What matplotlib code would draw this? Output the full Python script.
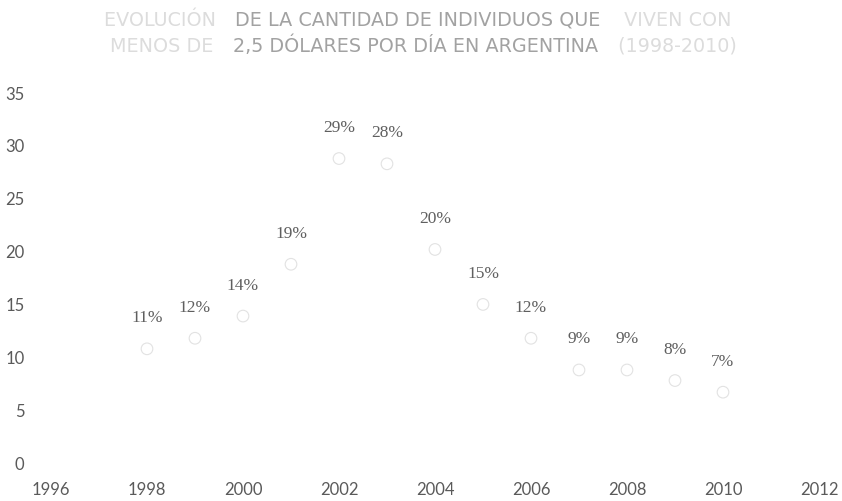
import matplotlib
matplotlib.use('Agg')
from matplotlib import pyplot as plt

# datos: porcentaje de individuos que viven con menos de 2,5 dolares por dia
years = [1998, 1999, 2000, 2001, 2002, 2003, 2004, 2005, 2006, 2007, 2008, 2009, 2010]
values = [10.8, 11.8, 13.9, 18.8, 28.8, 28.3, 20.2, 15.0, 11.8, 8.8, 8.8, 7.8, 6.7]
labels = ['11%', '12%', '14%', '19%', '29%', '28%', '20%', '15%', '12%', '9%', '9%', '8%', '7%']

x_ticks = list(range(1996, 2013, 2))
y_ticks = list(range(0, 36, 5))

fig = plt.figure(figsize=(8.42, 5.01), dpi=100)
ax = fig.add_axes([51 / 842, 38 / 501, 768 / 842, 370 / 501])

# puntos (marcadores casi invisibles)
ax.scatter(years, values, s=70, facecolors='none', edgecolors='#e2e2e2', linewidths=0.8)

# etiquetas de datos
for x, y, lab in zip(years, values, labels):
    ax.annotate(lab, (x, y), xytext=(0, 22), textcoords='offset points',
                ha='center', va='center', fontsize=12.5, color='#5f5f5f',
                family='Liberation Serif')

ax.set_xlim(1996, 2012)
ax.set_ylim(0, 35)
ax.set_xticks(x_ticks)
ax.set_yticks(y_ticks)
for s in ax.spines.values():
    s.set_visible(False)
ax.tick_params(axis='both', length=0, labelsize=12, labelcolor='#5a5a5a')
ax.tick_params(axis='x', pad=14)
ax.tick_params(axis='y', pad=19)
for t in ax.get_xticklabels() + ax.get_yticklabels():
    t.set_family('Lato')

# titulo (parte central legible, extremos desvanecidos)
title_font = dict(fontsize=13.8, family='DejaVu Sans', va='center')
fig.text(222 / 842, 1 - 20 / 501, 'EVOLUCIÓN ', ha='right', color='#dcdcdc', **title_font)
fig.text(418 / 842, 1 - 20 / 501, 'DE LA CANTIDAD DE INDIVIDUOS QUE', ha='center', color='#a2a2a2', **title_font)
fig.text(618 / 842, 1 - 20 / 501, ' VIVEN CON', ha='left', color='#dcdcdc', **title_font)
fig.text(220 / 842, 1 - 46 / 501, 'MENOS DE ', ha='right', color='#dcdcdc', **title_font)
fig.text(416 / 842, 1 - 46 / 501, '2,5 DÓLARES POR DÍA EN ARGENTINA', ha='center', color='#a2a2a2', **title_font)
fig.text(612 / 842, 1 - 46 / 501, ' (1998-2010)', ha='left', color='#dcdcdc', **title_font)

plt.savefig('out.png', dpi=100)
